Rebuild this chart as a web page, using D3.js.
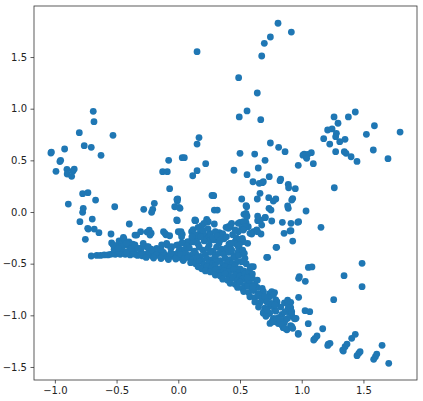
<!DOCTYPE html>
<meta charset="utf-8">
<title>scatter</title>
<style>
body { margin: 0; background: #fff; }
.axis text { font-family: "DejaVu Sans", sans-serif; font-size: 10px; fill: #222; }
.axis line { stroke: #333; stroke-width: 0.8px; }
</style>
<svg></svg>
<script src="https://cdn.jsdelivr.net/npm/d3@7"></script>
<script>
// tick values
var xTicks = [-1.0, -0.5, 0.0, 0.5, 1.0, 1.5];
var yTicks = [-1.5, -1.0, -0.5, 0.0, 0.5, 1.0, 1.5];

// sparse points, upper half
var upperPts = [
  [0.152,1.552],[-1.032,0.571],[-1.028,0.58],[-0.991,0.394],[-0.959,0.489],[-0.953,0.5],[-0.921,0.61],
  [-0.902,0.413],[-0.9,0.368],[-0.864,0.345],[-0.853,0.397],[-0.843,0.416],[-0.802,0.768],[-0.762,0.642],
  [-0.705,0.626],[-0.689,0.975],[-0.683,0.874],[-0.626,0.549],[-0.529,0.742],[-0.775,0.177],[-0.732,0.187],
  [-0.67,0.116],[-0.127,0.39],[-0.089,0.39],[-0.078,0.5],[-0.07,0.226],[-0.011,0.123],[0.032,0.526],
  [0.049,0.526],[0.117,0.351],[0.152,0.658],[0.168,0.72],[0.152,0.4],[0.222,0.468],[0.273,0.161],
  [0.808,1.827],[0.916,1.742],[0.746,1.694],[0.697,1.633],[0.676,1.51],[0.489,1.3],[0.64,1.152],
  [0.557,0.978],[0.494,0.92],[0.668,0.894],[1.262,0.92],[1.378,0.92],[1.434,0.968],[1.294,0.859],
  [1.589,0.835],[1.797,0.774],[1.21,0.794],[1.246,0.804],[1.281,0.762],[1.275,0.729],[1.178,0.71],
  [1.524,0.752],[1.351,0.704],[1.308,0.681],[1.227,0.658],[1.58,0.6],[1.699,0.516],[1.275,0.584],
  [1.345,0.584],[1.359,0.568],[1.4,0.535],[1.448,0.49],[0.746,0.668],[0.813,0.626],[0.865,0.584],
  [0.5,0.568],[0.619,0.561],[0.703,0.5],[0.648,0.426],[0.451,0.404],[0.557,0.361],[0.605,0.293],
  [0.656,0.278],[0.689,0.293],[0.737,0.342],[0.83,0.319],[0.891,0.268],[0.894,0.235],[0.948,0.226],
  [1.02,0.56],[1.035,0.535],[1.049,0.558],[1.078,0.574],[1.01,0.55],[1.04,0.52],[1.094,0.468],
  [0.972,0.452],[1.264,0.235],[0.662,0.181],[0.284,0.158],[0.514,0.126],[0.64,0.126],[0.733,0.139],
  [0.79,0.126],[0.927,0.13],[0.824,0.303],[0.681,0.284],[0.77,0.106],[0.919,0.116],[0.287,0.158]
];

// points around zero and the flat band on the left
var bandPts = [
  [-0.891,0.077],[-0.77,0.036],[-0.775,-0.003],[-0.515,0.051],[-0.28,0.026],[-0.194,0.084],[-0.207,0.026],
  [-0.216,-0.003],[-0.029,0.051],[0.014,0.036],[-0.008,0.106],[-0.797,-0.094],[-0.697,-0.068],
  [-0.729,-0.165],[-0.681,-0.165],[-0.643,-0.2],[-0.753,-0.264],[-0.397,-0.116],[-0.545,-0.213],
  [-0.351,-0.223],[-0.305,-0.19],[-0.253,-0.194],[-0.235,-0.175],[-0.22,-0.205],[-0.12,-0.19],
  [-0.1,-0.22],[-0.07,-0.23],[0.0,-0.19],[-0.008,-0.084],[0.016,-0.2],[0.141,-0.084],[-0.09,-0.32],
  [0.022,-0.19],[0.032,-0.216],[0.108,-0.19],[-0.013,-0.077],[0.135,-0.077],[0.006,0.045],[-0.005,0.126],
  [-0.705,-0.426],[-0.66,-0.42],[-0.63,-0.42],[-0.6,-0.415],[-0.57,-0.415],[-0.55,-0.41],[-0.53,-0.405],
  [-0.51,-0.41],[-0.49,-0.4],[-0.47,-0.41],[-0.45,-0.395],[-0.43,-0.41],[-0.41,-0.4],[-0.39,-0.415],
  [-0.37,-0.4],[-0.35,-0.41],[-0.33,-0.42],[-0.31,-0.405],[-0.29,-0.425],[-0.27,-0.41],[-0.25,-0.42],
  [-0.23,-0.4],[-0.21,-0.425],[-0.19,-0.41],[-0.17,-0.42],[-0.15,-0.405],[-0.13,-0.43],[-0.11,-0.415],
  [-0.09,-0.44],[-0.07,-0.42],[-0.05,-0.43],[-0.03,-0.41],[-0.01,-0.44],[0.01,-0.42],[0.03,-0.45],
  [-0.48,-0.38],[-0.42,-0.385],[-0.36,-0.38],[-0.3,-0.39],[-0.24,-0.385],[-0.18,-0.39],[-0.12,-0.39],
  [-0.06,-0.395],[0.0,-0.39],[-0.26,-0.44],[-0.2,-0.445],[-0.14,-0.45],[-0.08,-0.46],[-0.02,-0.455],
  [0.04,-0.47],[-0.54,-0.3],[-0.5,-0.33],[-0.48,-0.28],[-0.455,-0.3],[-0.44,-0.26],[-0.42,-0.32],
  [-0.4,-0.29],[-0.39,-0.34],[-0.46,-0.35],[-0.52,-0.36],[-0.37,-0.31],[-0.445,-0.245],[-0.256,-0.336],
  [-0.175,-0.352],[-0.094,-0.303],[-0.013,-0.32],[0.068,-0.336],[0.122,-0.287],[-0.3,-0.35],[-0.22,-0.36],
  [-0.14,-0.36],[-0.06,-0.35],[0.03,-0.37],
  [-0.734,-0.158],[-0.337,-0.223],[-0.229,-0.223],[-0.108,-0.206],[0.027,-0.239],[0.135,-0.084],
  [-0.527,-0.319],[-0.432,-0.319],[-0.459,-0.336],[-0.418,-0.303],[-0.486,-0.352],[-0.378,-0.352],
  [-0.351,-0.319],[-0.324,-0.352],[-0.284,-0.303],[-0.243,-0.336],[-0.216,-0.368],[-0.135,-0.319],
  [-0.054,-0.336],[0.0,-0.319],[0.054,-0.303],[0.081,-0.336],[0.109,-0.271]
];

// dense cluster and the band going down to the right
var densePts = [
  [0.23,-0.071],[0.243,-0.094],[0.208,-0.11],[0.19,-0.133],[0.292,-0.116],[0.332,-0.2],[0.387,-0.148],
  [0.405,-0.142],[0.432,-0.11],[0.5,-0.1],[0.549,-0.103],[0.535,-0.158],[0.292,0.019],[0.316,0.019],
  [0.554,0.051],[0.546,-0.022],[0.176,-0.206],[0.149,-0.264],[0.257,-0.206],[0.222,-0.239],[0.076,-0.287],
  [0.419,-0.303],[0.46,-0.287],[0.492,-0.264],[0.392,-0.368],[0.486,-0.384],[0.562,-0.303],[0.205,-0.206],
  [0.257,-0.271],[0.135,-0.271],
  [0.03,-0.3],[0.07,-0.33],[0.12,-0.29],[0.16,-0.31],[0.21,-0.28],[0.25,-0.32],[0.29,-0.27],[0.33,-0.3],
  [0.37,-0.26],[0.41,-0.31],[0.01,-0.36],[0.05,-0.37],[0.09,-0.35],[0.13,-0.38],[0.17,-0.34],[0.2,-0.37],
  [0.24,-0.35],[0.28,-0.38],[0.31,-0.34],[0.35,-0.36],[0.39,-0.35],[0.43,-0.37],[0.02,-0.41],[0.06,-0.4],
  [0.1,-0.42],[0.14,-0.4],[0.18,-0.43],[0.22,-0.41],[0.26,-0.39],[0.3,-0.42],[0.33,-0.4],[0.37,-0.41],
  [0.41,-0.39],[0.45,-0.42],[0.05,-0.45],[0.08,-0.44],[0.12,-0.46],[0.15,-0.44],[0.19,-0.47],[0.23,-0.45],
  [0.27,-0.46],[0.3,-0.44],[0.34,-0.47],[0.38,-0.45],[0.42,-0.46],[0.46,-0.44],[0.1,-0.49],[0.14,-0.5],
  [0.17,-0.48],[0.21,-0.51],[0.25,-0.49],[0.28,-0.5],[0.32,-0.48],[0.36,-0.51],[0.4,-0.49],[0.44,-0.5],
  [0.48,-0.48],[0.16,-0.53],[0.19,-0.55],[0.23,-0.53],[0.27,-0.54],[0.3,-0.52],[0.34,-0.55],[0.38,-0.53],
  [0.42,-0.54],[0.46,-0.52],[0.5,-0.55],[0.22,-0.57],[0.26,-0.58],[0.3,-0.56],[0.33,-0.59],[0.37,-0.57],
  [0.41,-0.58],[0.45,-0.56],[0.49,-0.59],[0.53,-0.57],[0.3,-0.61],[0.34,-0.62],[0.38,-0.6],[0.42,-0.63],
  [0.46,-0.61],[0.5,-0.62],[0.54,-0.6],[0.58,-0.63],[0.36,-0.65],[0.4,-0.66],[0.44,-0.64],[0.48,-0.67],
  [0.52,-0.65],[0.56,-0.66],[0.6,-0.64],[0.42,-0.69],[0.46,-0.7],[0.5,-0.68],[0.54,-0.71],[0.58,-0.69],
  [0.62,-0.7],[0.48,-0.73],[0.52,-0.74],[0.56,-0.72],[0.6,-0.75],[0.64,-0.73],[0.68,-0.74],[0.53,-0.77],
  [0.57,-0.78],[0.61,-0.76],[0.65,-0.79],[0.69,-0.77],[0.74,-0.79],[0.78,-0.78],[0.58,-0.82],[0.62,-0.83],
  [0.66,-0.81],[0.7,-0.84],[0.74,-0.82],[0.79,-0.85],[0.62,-0.87],[0.66,-0.88],[0.71,-0.86],[0.75,-0.89],
  [0.8,-0.87],[0.86,-0.88],[0.65,-0.92],[0.7,-0.93],[0.74,-0.91],[0.78,-0.94],[0.83,-0.92],[0.89,-0.93],
  [0.69,-0.97],[0.74,-0.98],[0.79,-0.96],[0.84,-0.99],[0.9,-0.97],[0.71,-1.01],[0.77,-1.03],[0.82,-1.02],
  [0.87,-1.04],[0.94,-1.03],[0.76,-1.06],[0.81,-1.08],[0.86,-1.07],[0.91,-1.1],[0.85,-1.12],[0.88,-1.14],
  [0.92,-1.11]
];

// upper edge of the cluster, filled in
var fillPts = [
  [0.12,-0.17],[0.16,-0.15],[0.2,-0.18],[0.24,-0.16],[0.14,-0.22],[0.18,-0.24],[0.26,-0.22],[0.3,-0.19],
  [0.11,-0.24],[0.28,-0.25],[0.32,-0.23],[0.36,-0.21],[0.34,-0.27],[0.39,-0.24],[0.44,-0.22],[0.47,-0.25],
  [0.419,-0.319],[0.46,-0.303],[0.486,-0.336],[0.432,-0.368],[0.514,-0.481],[0.54,-0.448],[0.581,-0.545],
  [0.608,-0.529],[0.49,-0.42],[0.52,-0.4],[0.55,-0.5],[0.57,-0.58],[0.6,-0.6],[0.64,-0.66],
  [0.486,-0.11],[0.514,-0.158],[0.486,-0.19],[0.419,-0.142],[0.405,-0.158],[0.46,-0.174],
  [0.567,-0.142],[0.608,-0.19],[0.635,-0.174],[0.581,-0.206],[0.554,-0.045],
  [0.622,-0.723],[0.608,-0.707],[0.648,-0.803],[0.676,-0.836],[0.703,-0.82],[0.757,-0.771],[0.77,-0.803],
  [0.751,-0.884],[0.784,-0.9],[0.716,-0.868],[0.689,-0.981],[0.716,-0.997],[0.743,-1.078],[0.77,-1.062],
  [0.797,-1.029],[0.824,-1.045],[0.838,-1.094],[0.865,-1.126],[0.865,-0.965],[0.891,-0.884],[0.905,-0.949],
  [0.919,-0.997],[0.886,-1.029]
];

// scattered points right of the cluster
var rightPts = [
  [0.424,-0.126],[0.527,-0.094],[0.54,-0.142],[0.527,-0.174],[0.635,-0.181],[0.595,-0.213],[0.67,-0.213],
  [0.857,-0.206],[0.913,-0.181],[0.927,-0.281],[0.797,-0.342],[0.519,-0.255],[0.5,-0.271],[0.527,-0.287],
  [0.46,-0.303],[0.519,-0.384],[0.724,-0.439],[0.527,-0.481],[0.587,-0.536],[0.981,-0.626],[0.559,-0.636],
  [1.054,-0.536],[0.532,-0.022],[0.703,-0.055],[0.643,-0.084],[0.676,-0.126],[0.757,-0.087],[0.843,-0.1],
  [0.913,-0.11],[0.968,-0.1],[0.549,0.061],[0.549,-0.013],[0.735,0.036],[0.751,0.019],[0.891,0.036],
  [1.035,0.01],[0.886,0.058],[0.705,-0.052],[0.665,-0.077],[0.643,-0.039],[0.557,-0.039],[0.589,-0.206],
  [0.643,-0.19],[0.427,-0.303],[0.494,-0.319],[0.522,-0.368],[0.535,-0.4],[0.589,-0.529],[0.603,-0.723],
  [1.156,-0.148],[0.792,-0.342],[0.716,-0.439],[1.489,-0.497],[1.083,-0.532],[1.343,-0.616],[0.975,-0.642],
  [1.029,-0.671],[1.489,-0.723],[0.975,-0.826],[1.259,-0.849],[1.027,-0.955],[1.065,-0.965],[1.053,-1.081],
  [0.972,-1.184],[1.17,-1.13],[1.124,-1.2],[1.108,-1.223],[1.097,-1.239],[1.216,-1.278],[1.229,-1.271],
  [1.211,-1.291],[1.332,-1.336],[1.337,-1.346],[1.351,-1.304],[1.367,-1.278],[1.405,-1.223],[1.434,-1.184],
  [1.448,-1.391],[1.462,-1.368],[1.473,-1.352],[1.583,-1.426],[1.597,-1.4],[1.608,-1.375],[1.651,-1.29],
  [1.705,-1.465],[0.886,-0.852],[0.911,-0.874],[0.911,-0.926],[0.919,-0.965],[0.946,-1.033],[0.927,-1.126],
  [0.954,-1.029],[0.72,-0.95],[0.905,-0.184],[0.975,-0.094],[0.972,-1.175]
];

var width = 423, height = 401;
var margin = {left: 34, right: 6, top: 6, bottom: 21};

var svg = d3.select("svg")
    .attr("width", width)
    .attr("height", height);

var x = d3.scaleLinear()
    .domain([-1.169, 1.934])
    .range([margin.left, width - margin.right]);
var y = d3.scaleLinear()
    .domain([-1.626, 1.994])
    .range([height - margin.bottom, margin.top]);

var fmt = d3.format(".1f");

svg.append("g")
    .attr("class", "axis")
    .attr("transform", "translate(0," + (height - margin.bottom) + ")")
    .call(d3.axisBottom(x).tickValues(xTicks).tickFormat(fmt).tickSize(3.5).tickPadding(3.5))
    .call(function(g) { g.select(".domain").remove(); });

svg.append("g")
    .attr("class", "axis")
    .attr("transform", "translate(" + margin.left + ",0)")
    .call(d3.axisLeft(y).tickValues(yTicks).tickFormat(fmt).tickSize(3.5).tickPadding(3.5))
    .call(function(g) { g.select(".domain").remove(); });

var allPts = upperPts.concat(bandPts, densePts, fillPts, rightPts);

svg.append("g").selectAll("circle")
    .data(allPts)
  .enter().append("circle")
    .attr("cx", function(d) { return x(d[0]); })
    .attr("cy", function(d) { return y(d[1]); })
    .attr("r", 3.4)
    .style("fill", "#1f77b4");

// frame on top, like the spines
svg.append("rect")
    .attr("x", margin.left)
    .attr("y", margin.top)
    .attr("width", width - margin.left - margin.right)
    .attr("height", height - margin.top - margin.bottom)
    .style("fill", "none")
    .style("stroke", "#333")
    .style("stroke-width", 0.8);
</script>
